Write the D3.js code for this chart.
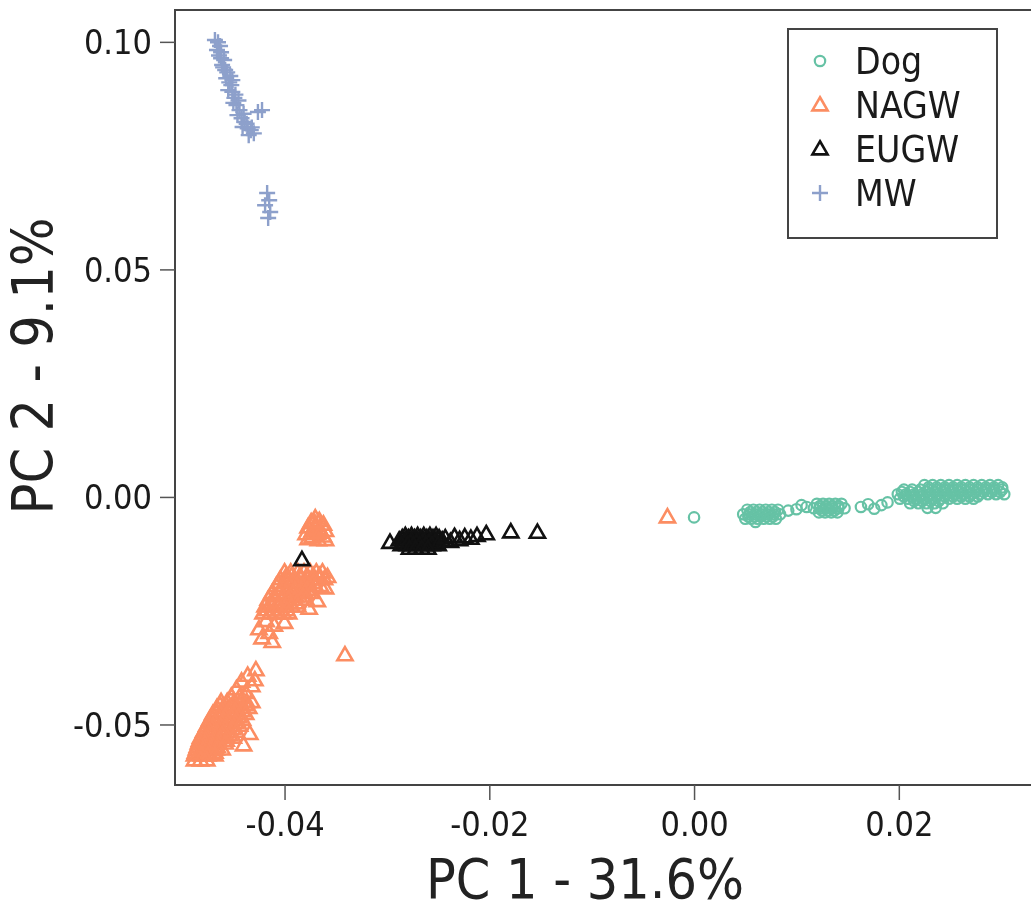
<!DOCTYPE html>
<html>
<head>
<meta charset="utf-8">
<script src="https://cdn.jsdelivr.net/npm/d3@7"></script>
<style>
  body { margin: 0; background: #fff; }
  svg { filter: blur(0.4px); }
  svg text { font-family: "DejaVu Sans Condensed", "DejaVu Sans", sans-serif; font-stretch: condensed; }
</style>
</head>
<body>
<svg width="1031" height="913"></svg>
<script>
(function () {

  // groups shown in the legend
  var groups = ['Dog', 'NAGW', 'EUGW', 'MW']
  var colors = ['#66c2a5', '#fc8d62', '#111111', '#8da0cb']
  var xTicks = [-0.04, -0.02, 0.00, 0.02]
  var yTicks = [-0.05, 0.00, 0.05, 0.10]

  // PC1, PC2 pairs
  var dog = [
    [0.0000, -0.0045],
    [0.0052, -0.0028], [0.0058, -0.0028], [0.0064, -0.0028], [0.0070, -0.0028], [0.0076, -0.0028], [0.0082, -0.0028],
    [0.0055, -0.0033], [0.0061, -0.0033], [0.0067, -0.0033], [0.0073, -0.0033], [0.0079, -0.0033],
    [0.0048, -0.0038], [0.0054, -0.0038], [0.0060, -0.0038], [0.0066, -0.0038], [0.0072, -0.0038], [0.0078, -0.0038], [0.0084, -0.0038],
    [0.0053, -0.0043], [0.0059, -0.0043], [0.0065, -0.0043], [0.0071, -0.0043], [0.0077, -0.0043],
    [0.0050, -0.0048], [0.0056, -0.0048], [0.0062, -0.0048], [0.0068, -0.0048], [0.0074, -0.0048], [0.0080, -0.0048],
    [0.0060, -0.0055],
    [0.0092, -0.0030], [0.0100, -0.0027],
    [0.0105, -0.0018], [0.0110, -0.0022],
    [0.0120, -0.0015], [0.0126, -0.0015], [0.0132, -0.0015], [0.0138, -0.0015], [0.0144, -0.0015],
    [0.0123, -0.0020], [0.0129, -0.0020], [0.0135, -0.0020], [0.0141, -0.0020],
    [0.0117, -0.0025], [0.0123, -0.0025], [0.0129, -0.0025], [0.0135, -0.0025], [0.0141, -0.0025], [0.0147, -0.0025],
    [0.0125, -0.0030], [0.0131, -0.0030], [0.0137, -0.0030],
    [0.0122, -0.0034], [0.0128, -0.0034], [0.0134, -0.0034], [0.0140, -0.0034],
    [0.0163, -0.0022], [0.0170, -0.0016], [0.0176, -0.0026], [0.0183, -0.0018], [0.0189, -0.0012],
    [0.0225, 0.0026], [0.0233, 0.0026], [0.0241, 0.0026], [0.0249, 0.0026], [0.0257, 0.0026],
    [0.0265, 0.0026], [0.0273, 0.0026], [0.0281, 0.0026], [0.0289, 0.0026], [0.0297, 0.0026],
    [0.0229, 0.0021], [0.0237, 0.0021], [0.0245, 0.0021], [0.0253, 0.0021], [0.0261, 0.0021],
    [0.0269, 0.0021], [0.0277, 0.0021], [0.0285, 0.0021], [0.0293, 0.0021], [0.0301, 0.0021],
    [0.0205, 0.0016], [0.0213, 0.0016], [0.0221, 0.0016], [0.0229, 0.0016], [0.0237, 0.0016], [0.0245, 0.0016],
    [0.0253, 0.0016], [0.0261, 0.0016], [0.0269, 0.0016], [0.0277, 0.0016], [0.0285, 0.0016], [0.0293, 0.0016], [0.0301, 0.0016],
    [0.0203, 0.0011], [0.0211, 0.0011], [0.0219, 0.0011], [0.0227, 0.0011], [0.0235, 0.0011], [0.0243, 0.0011], [0.0251, 0.0011],
    [0.0259, 0.0011], [0.0267, 0.0011], [0.0275, 0.0011], [0.0283, 0.0011], [0.0291, 0.0011], [0.0299, 0.0011],
    [0.0199, 0.0006], [0.0207, 0.0006], [0.0215, 0.0006], [0.0223, 0.0006], [0.0231, 0.0006], [0.0239, 0.0006], [0.0247, 0.0006],
    [0.0255, 0.0006], [0.0263, 0.0006], [0.0271, 0.0006], [0.0279, 0.0006], [0.0287, 0.0006], [0.0295, 0.0006], [0.0303, 0.0006],
    [0.0205, 0.0001], [0.0213, 0.0001], [0.0221, 0.0001], [0.0229, 0.0001], [0.0237, 0.0001],
    [0.0245, 0.0001], [0.0253, 0.0001], [0.0261, 0.0001], [0.0269, 0.0001], [0.0277, 0.0001],
    [0.0201, -0.0004], [0.0209, -0.0004], [0.0217, -0.0004], [0.0225, -0.0004], [0.0233, -0.0004],
    [0.0241, -0.0004], [0.0249, -0.0004], [0.0257, -0.0004], [0.0265, -0.0004], [0.0273, -0.0004],
    [0.0215, -0.0009], [0.0223, -0.0009], [0.0231, -0.0009], [0.0239, -0.0009],
    [0.0211, -0.0014], [0.0219, -0.0014], [0.0227, -0.0014], [0.0235, -0.0014], [0.0243, -0.0014],
    [0.0228, -0.0024], [0.0236, -0.0024]
  ]

  var nagw = [
    // small group near PC2 = -0.007
    [-0.0370, -0.0046], [-0.0366, -0.0052], [-0.0374, -0.0055], [-0.0362, -0.0060], [-0.0370, -0.0062],
    [-0.0377, -0.0066], [-0.0366, -0.0070], [-0.0360, -0.0074], [-0.0373, -0.0075], [-0.0379, -0.0081],
    [-0.0368, -0.0080], [-0.0362, -0.0086], [-0.0373, -0.0088], [-0.0367, -0.0094], [-0.0377, -0.0092],
    [-0.0360, -0.0094], [-0.0370, -0.0070], [-0.0365, -0.0078], [-0.0371, -0.0055],
    // middle band
    [-0.0400, -0.0165], [-0.0394, -0.0165], [-0.0387, -0.0165], [-0.0381, -0.0165], [-0.0375, -0.0165], [-0.0369, -0.0165], [-0.0363, -0.0165],
    [-0.0398, -0.0173], [-0.0393, -0.0173], [-0.0385, -0.0173], [-0.0378, -0.0173], [-0.0372, -0.0173], [-0.0366, -0.0173],
    [-0.0404, -0.0180], [-0.0397, -0.0180], [-0.0391, -0.0180], [-0.0384, -0.0180], [-0.0378, -0.0180], [-0.0372, -0.0180], [-0.0366, -0.0180], [-0.0361, -0.0180],
    [-0.0405, -0.0188], [-0.0398, -0.0188], [-0.0392, -0.0188], [-0.0386, -0.0188], [-0.0379, -0.0188], [-0.0372, -0.0188],
    [-0.0408, -0.0195], [-0.0401, -0.0195], [-0.0395, -0.0195], [-0.0388, -0.0195], [-0.0382, -0.0195], [-0.0376, -0.0195], [-0.0370, -0.0195], [-0.0365, -0.0195],
    [-0.0404, -0.0203], [-0.0397, -0.0203], [-0.0390, -0.0203], [-0.0384, -0.0203], [-0.0378, -0.0203],
    [-0.0412, -0.0210], [-0.0405, -0.0210], [-0.0399, -0.0210], [-0.0392, -0.0210], [-0.0386, -0.0210], [-0.0380, -0.0210], [-0.0374, -0.0210],
    [-0.0410, -0.0218], [-0.0402, -0.0218], [-0.0395, -0.0218], [-0.0389, -0.0218], [-0.0382, -0.0218],
    [-0.0416, -0.0225], [-0.0409, -0.0225], [-0.0403, -0.0225], [-0.0396, -0.0225], [-0.0390, -0.0225], [-0.0384, -0.0225], [-0.0379, -0.0225],
    [-0.0413, -0.0233], [-0.0406, -0.0233], [-0.0400, -0.0233], [-0.0394, -0.0233], [-0.0388, -0.0233],
    [-0.0419, -0.0240], [-0.0412, -0.0240], [-0.0406, -0.0240], [-0.0399, -0.0240], [-0.0393, -0.0240], [-0.0387, -0.0240],
    [-0.0417, -0.0248], [-0.0410, -0.0248], [-0.0404, -0.0248], [-0.0398, -0.0248],
    [-0.0421, -0.0255], [-0.0414, -0.0255], [-0.0408, -0.0255], [-0.0401, -0.0255], [-0.0396, -0.0255],
    [-0.0358, -0.0175], [-0.0360, -0.0200], [-0.0368, -0.0228], [-0.0376, -0.0245],
    [-0.0418, -0.0272], [-0.0410, -0.0282], [-0.0425, -0.0290], [-0.0415, -0.0298], [-0.0422, -0.0310],
    [-0.0412, -0.0318], [-0.0400, -0.0276],
    [-0.0341, -0.0347],
    // lower group
    [-0.0428, -0.0380], [-0.0436, -0.0392], [-0.0442, -0.0405], [-0.0432, -0.0415], [-0.0447, -0.0422],
    [-0.0438, -0.0430], [-0.0452, -0.0438], [-0.0429, -0.0402], [-0.0444, -0.0440],
    [-0.0462, -0.0450], [-0.0456, -0.0450], [-0.0449, -0.0450], [-0.0443, -0.0450], [-0.0437, -0.0450], [-0.0432, -0.0450],
    [-0.0463, -0.0457], [-0.0457, -0.0457], [-0.0450, -0.0457], [-0.0444, -0.0457], [-0.0438, -0.0457],
    [-0.0466, -0.0463], [-0.0460, -0.0463], [-0.0453, -0.0463], [-0.0447, -0.0463], [-0.0441, -0.0463], [-0.0435, -0.0463],
    [-0.0467, -0.0470], [-0.0461, -0.0470], [-0.0454, -0.0470], [-0.0448, -0.0470], [-0.0441, -0.0470],
    [-0.0470, -0.0476], [-0.0463, -0.0476], [-0.0457, -0.0476], [-0.0450, -0.0476], [-0.0444, -0.0476], [-0.0438, -0.0476],
    [-0.0471, -0.0483], [-0.0465, -0.0483], [-0.0458, -0.0483], [-0.0452, -0.0483], [-0.0445, -0.0483],
    [-0.0473, -0.0489], [-0.0467, -0.0489], [-0.0460, -0.0489], [-0.0454, -0.0489], [-0.0447, -0.0489], [-0.0441, -0.0489],
    [-0.0474, -0.0496], [-0.0468, -0.0496], [-0.0461, -0.0496], [-0.0455, -0.0496], [-0.0448, -0.0496],
    [-0.0476, -0.0502], [-0.0470, -0.0502], [-0.0463, -0.0502], [-0.0457, -0.0502], [-0.0450, -0.0502], [-0.0444, -0.0502],
    [-0.0477, -0.0509], [-0.0471, -0.0509], [-0.0464, -0.0509], [-0.0458, -0.0509], [-0.0451, -0.0509],
    [-0.0479, -0.0515], [-0.0473, -0.0515], [-0.0466, -0.0515], [-0.0460, -0.0515], [-0.0453, -0.0515], [-0.0447, -0.0515],
    [-0.0480, -0.0522], [-0.0474, -0.0522], [-0.0467, -0.0522], [-0.0461, -0.0522], [-0.0454, -0.0522],
    [-0.0482, -0.0528], [-0.0476, -0.0528], [-0.0469, -0.0528], [-0.0463, -0.0528], [-0.0456, -0.0528], [-0.0450, -0.0528],
    [-0.0483, -0.0535], [-0.0477, -0.0535], [-0.0470, -0.0535], [-0.0464, -0.0535], [-0.0457, -0.0535],
    [-0.0484, -0.0541], [-0.0478, -0.0541], [-0.0471, -0.0541], [-0.0465, -0.0541], [-0.0458, -0.0541],
    [-0.0485, -0.0548], [-0.0479, -0.0548], [-0.0472, -0.0548], [-0.0466, -0.0548],
    [-0.0486, -0.0554], [-0.0480, -0.0554], [-0.0473, -0.0554], [-0.0467, -0.0554], [-0.0461, -0.0554],
    [-0.0487, -0.0561], [-0.0481, -0.0561], [-0.0474, -0.0561], [-0.0468, -0.0561],
    [-0.0488, -0.0567], [-0.0481, -0.0567], [-0.0475, -0.0567], [-0.0468, -0.0567],
    [-0.0488, -0.0578], [-0.0482, -0.0578], [-0.0476, -0.0578],
    [-0.0434, -0.0520], [-0.0440, -0.0545],
    [-0.0026, -0.0044]
  ]

  var eugw = [
    [-0.0383, -0.0138],
    [-0.0297, -0.0100],
    [-0.0282, -0.0085], [-0.0276, -0.0085], [-0.0270, -0.0085], [-0.0264, -0.0085], [-0.0258, -0.0085], [-0.0252, -0.0085],
    [-0.0285, -0.0090], [-0.0279, -0.0090], [-0.0273, -0.0090], [-0.0267, -0.0090], [-0.0261, -0.0090], [-0.0255, -0.0090], [-0.0249, -0.0090],
    [-0.0288, -0.0095], [-0.0282, -0.0095], [-0.0276, -0.0095], [-0.0270, -0.0095], [-0.0264, -0.0095], [-0.0258, -0.0095],
    [-0.0252, -0.0095], [-0.0246, -0.0095],
    [-0.0283, -0.0100], [-0.0277, -0.0100], [-0.0271, -0.0100], [-0.0265, -0.0100], [-0.0259, -0.0100], [-0.0253, -0.0100],
    [-0.0286, -0.0105], [-0.0280, -0.0105], [-0.0274, -0.0105], [-0.0268, -0.0105], [-0.0262, -0.0105], [-0.0256, -0.0105], [-0.0250, -0.0105],
    [-0.0278, -0.0113], [-0.0272, -0.0113], [-0.0266, -0.0113], [-0.0260, -0.0113],
    [-0.0243, -0.0090], [-0.0238, -0.0098], [-0.0234, -0.0087], [-0.0229, -0.0094], [-0.0224, -0.0088],
    [-0.0218, -0.0091], [-0.0212, -0.0085], [-0.0203, -0.0081], [-0.0179, -0.0077], [-0.0153, -0.0078]
  ]

  var mw = [
    [-0.0468, 0.1004], [-0.0465, 0.0999], [-0.0463, 0.0991], [-0.0466, 0.0982], [-0.0462, 0.0977],
    [-0.0462, 0.0964], [-0.0459, 0.0960], [-0.0461, 0.0949], [-0.0458, 0.0938], [-0.0456, 0.0933],
    [-0.0457, 0.0920], [-0.0454, 0.0911], [-0.0452, 0.0905], [-0.0455, 0.0894], [-0.0451, 0.0890],
    [-0.0449, 0.0877], [-0.0450, 0.0866], [-0.0447, 0.0861], [-0.0444, 0.0850], [-0.0446, 0.0839],
    [-0.0442, 0.0832], [-0.0439, 0.0824], [-0.0441, 0.0813], [-0.0436, 0.0810], [-0.0433, 0.0806],
    [-0.0430, 0.0799], [-0.0435, 0.0795], [-0.0426, 0.0846], [-0.0422, 0.0850], [-0.0451, 0.0916],
    [-0.0464, 0.0970], [-0.0460, 0.0944], [-0.0453, 0.0925], [-0.0448, 0.0884], [-0.0445, 0.0871],
    [-0.0440, 0.0842], [-0.0437, 0.0820], [-0.0432, 0.0812],
    [-0.0417, 0.0668], [-0.0415, 0.0652], [-0.0419, 0.0641], [-0.0414, 0.0626], [-0.0416, 0.0613]
  ]

  var series = [dog, nagw, eugw, mw]

  var svg = d3.select('svg')
  var left = 175, top = 10, right = 1036, bottom = 785

  var x = d3.scaleLinear().domain([-0.0507, 0.0334]).range([left, right])
  var y = d3.scaleLinear().domain([-0.0633, 0.107]).range([bottom, top])

  svg.append('clipPath').attr('id', 'plot')
    .append('rect').attr('x', left).attr('y', top).attr('width', right - left).attr('height', bottom - top)

  // marker shapes
  var circle = d3.symbol().type(d3.symbolCircle).size(85)
  var tri = d3.symbol().type(d3.symbolTriangle).size(100)

  function marker(g, i) {
    if (i === 0) {
      g.append('path').attr('d', circle).attr('fill', 'none')
        .attr('stroke', colors[i]).attr('stroke-width', 2.2)
    } else if (i === 3) {
      g.append('path').attr('d', 'M-8,0H8M0,-8V8').attr('fill', 'none')
        .attr('stroke', colors[i]).attr('stroke-width', 2.4)
    } else {
      g.append('path').attr('d', tri).attr('transform', 'translate(0,1)').attr('fill', 'none')
        .attr('stroke', colors[i]).attr('stroke-width', 2.6)
    }
  }

  var plot = svg.append('g').attr('clip-path', 'url(#plot)')

  series.forEach(function (pts, i) {
    plot.append('g').selectAll('g')
      .data(pts)
      .enter().append('g')
      .attr('transform', function (d) { return 'translate(' + x(d[0]) + ',' + y(d[1]) + ')' })
      .each(function () { marker(d3.select(this), i) })
  })

  // frame
  svg.append('rect')
    .attr('x', left).attr('y', top).attr('width', right - left).attr('height', bottom - top)
    .attr('fill', 'none').attr('stroke', '#444').attr('stroke-width', 2)

  // axes, with a plain hyphen for negatives like the original
  var fmt = function (d) { return d3.format('.2f')(d).replace('\u2212', '-') }

  var xAxis = svg.append('g').attr('transform', 'translate(0,' + bottom + ')')
    .call(d3.axisBottom(x).tickValues(xTicks).tickFormat(fmt).tickSize(15).tickPadding(12))
  var yAxis = svg.append('g').attr('transform', 'translate(' + left + ',0)')
    .call(d3.axisLeft(y).tickValues(yTicks).tickFormat(fmt).tickSize(15).tickPadding(8))

  ;[xAxis, yAxis].forEach(function (a) {
    a.select('.domain').remove()
    a.selectAll('line').attr('stroke', '#555').attr('stroke-width', 1.5)
    a.selectAll('text').attr('font-family', null).attr('font-size', 34).attr('fill', '#1a1a1a')
  })
  yAxis.selectAll('text').attr('dy', '0.35em')

  // axis titles
  svg.append('text')
    .attr('x', 585).attr('y', 898)
    .attr('text-anchor', 'middle')
    .attr('font-size', 55).attr('fill', '#222')
    .text('PC 1 - 31.6%')

  svg.append('text')
    .attr('transform', 'translate(53,366) rotate(-90)')
    .attr('text-anchor', 'middle')
    .attr('font-size', 57).attr('fill', '#222')
    .text('PC 2 - 9.1%')

  // legend
  var legend = svg.append('g')
  legend.append('rect')
    .attr('x', 788).attr('y', 29).attr('width', 209).attr('height', 209)
    .attr('fill', '#fff').attr('stroke', '#444').attr('stroke-width', 2)

  var rows = legend.selectAll('g.row')
    .data(groups)
    .enter().append('g').attr('class', 'row')
    .attr('transform', function (d, i) { return 'translate(820,' + (61 + i * 44) + ')' })

  rows.each(function (d, i) { marker(d3.select(this), i) })

  rows.append('text')
    .attr('x', 35).attr('dy', '0.36em')
    .attr('font-size', 37).attr('fill', '#1a1a1a')
    .text(function (d) { return d })

})()
</script>
</body>
</html>
